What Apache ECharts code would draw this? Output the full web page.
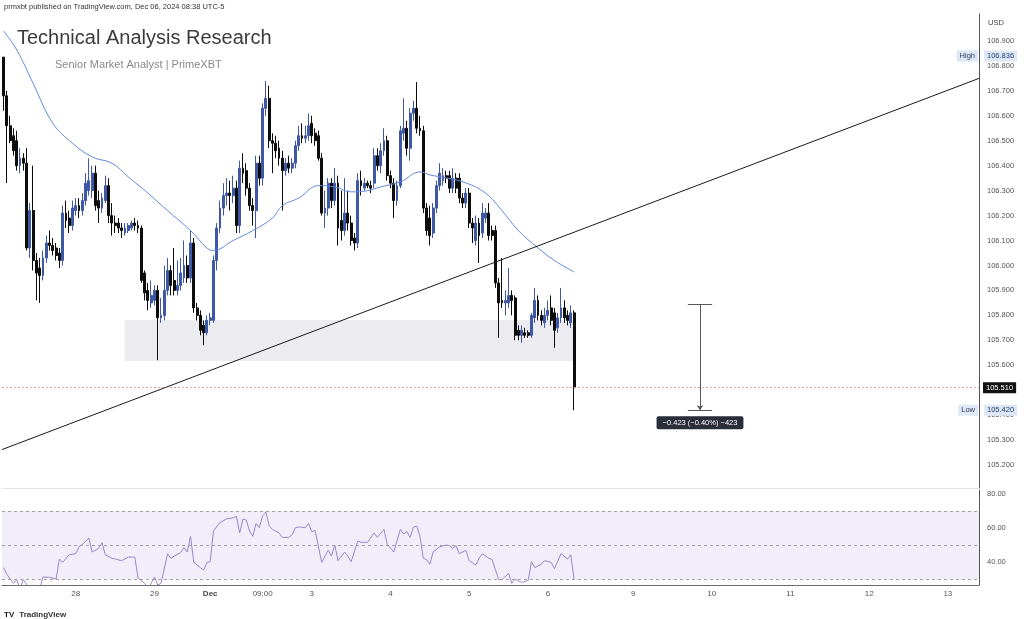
<!DOCTYPE html>
<html>
<head>
<meta charset="utf-8">
<script src="https://cdn.jsdelivr.net/npm/echarts@6/dist/echarts.min.js"></script>
<style>
html,body{margin:0;padding:0;background:#fff;}
#c{width:1024px;height:619px;}
</style>
</head>
<body>
<div id="c"></div>
<script>
// ---------- DATA ----------
const slotCount = 298;
const tickIdx  = [22, 46, 63, 79, 94, 118, 142, 166, 192, 216, 240, 264, 288];
const tickText = ['28','29','Dec','09:00','3','4','5','6','9','10','11','12','13'];

const opens = [106.835,106.68,106.56,106.52,106.50,106.40,106.43,106.41,106.07,106.22,
 106.02,105.99,105.96,106.03,106.09,106.08,106.07,106.05,106.02,106.21,
 106.19,106.16,106.22,106.24,106.22,106.26,106.30,106.30,106.37,106.26,
 106.23,106.26,106.32,106.20,106.17,106.17,106.15,106.13,106.14,106.15,
 106.17,106.16,106.15,105.97,105.90,105.85,105.86,105.90,105.79,105.80,
 105.90,105.98,105.94,105.90,105.92,105.95,106.00,105.95,106.09,105.83,
 105.80,105.76,105.73,105.78,105.78,106.02,106.15,106.23,106.28,106.29,
 106.28,106.31,106.16,106.39,106.38,106.31,106.24,106.22,106.41,106.35,
 106.63,106.67,106.50,106.49,106.47,106.43,106.38,106.41,106.39,106.41,
 106.48,106.52,106.51,106.52,106.57,106.53,106.52,106.43,106.21,106.23,
 106.33,106.26,106.33,106.18,106.14,106.21,106.17,106.11,106.09,106.34,
 106.31,106.33,106.32,106.33,106.44,106.40,106.46,106.50,106.36,106.33,
 106.26,106.32,106.53,106.55,106.47,106.61,106.63,106.55,106.54,106.23,
 106.19,106.13,106.23,106.32,106.34,106.36,106.36,106.31,106.35,106.35,
 106.27,106.25,106.29,106.17,106.10,106.17,106.13,106.19,106.21,106.14,
 106.14,105.93,105.86,105.85,105.85,105.88,105.87,105.74,105.72,105.73,
 105.73,105.72,105.79,105.86,105.80,105.77,105.80,105.83,105.81,105.75,
 105.79,105.83,105.80,105.77,105.81];
const closes = [106.68,106.56,106.50,106.46,106.40,106.43,106.41,106.07,106.22,106.02,
 105.97,105.96,106.03,106.09,106.08,106.06,106.04,106.02,106.21,106.18,
 106.16,106.23,106.24,106.22,106.26,106.33,106.34,106.37,106.24,106.23,
 106.27,106.32,106.20,106.17,106.16,106.15,106.14,106.15,106.16,106.17,
 106.16,106.15,105.94,105.89,105.86,105.88,105.90,105.79,105.80,105.90,
 105.98,105.92,105.90,105.92,105.97,106.00,105.95,106.09,105.83,105.80,
 105.74,105.73,105.78,105.79,106.02,106.15,106.23,106.28,106.29,106.28,
 106.31,106.16,106.39,106.37,106.31,106.24,106.22,106.41,106.35,106.63,
 106.67,106.50,106.49,106.46,106.43,106.38,106.41,106.39,106.41,106.48,
 106.52,106.51,106.52,106.56,106.52,106.50,106.43,106.21,106.23,106.33,
 106.26,106.33,106.15,106.14,106.21,106.17,106.10,106.09,106.34,106.32,
 106.33,106.32,106.31,106.44,106.40,106.46,106.50,106.36,106.33,106.26,
 106.32,106.54,106.55,106.47,106.61,106.63,106.55,106.54,106.23,106.14,
 106.12,106.23,106.32,106.37,106.36,106.35,106.31,106.35,106.31,106.27,
 106.25,106.29,106.17,106.15,106.17,106.12,106.21,106.21,106.12,106.12,
 105.93,105.85,105.85,105.86,105.88,105.86,105.72,105.72,105.74,105.72,
 105.72,105.80,105.86,105.80,105.78,105.80,105.82,105.78,105.74,105.79,
 105.83,105.79,105.78,105.81,105.51];
const lows = [106.62,106.33,106.49,106.44,106.38,106.37,106.38,106.06,106.03,105.98,
 105.86,105.85,105.94,106.01,106.06,106.04,106.02,105.99,106.00,106.15,
 106.13,106.14,106.20,106.19,106.20,106.24,106.28,106.27,106.22,106.17,
 106.21,106.25,106.17,106.12,106.13,106.13,106.11,106.12,106.13,106.14,
 106.14,106.13,105.93,105.86,105.82,105.83,105.84,105.62,105.77,105.78,
 105.88,105.88,105.88,105.88,105.90,105.93,105.93,105.93,105.81,105.78,
 105.72,105.68,105.72,105.76,105.77,105.98,106.13,106.20,106.24,106.22,
 106.25,106.13,106.13,106.33,106.28,106.22,106.16,106.11,106.32,106.32,
 106.60,106.47,106.37,106.43,106.40,106.22,106.36,106.37,106.37,106.39,
 106.46,106.49,106.49,106.50,106.49,106.48,106.42,106.20,106.15,106.20,
 106.23,106.24,106.08,106.10,106.12,106.14,106.08,106.06,106.07,106.28,
 106.30,106.31,106.29,106.31,106.38,106.37,106.44,106.34,106.31,106.19,
 106.24,106.31,106.50,106.44,106.42,106.58,106.53,106.52,106.21,106.12,
 106.08,106.11,106.21,106.30,106.32,106.33,106.29,106.29,106.29,106.25,
 106.23,106.23,106.15,106.09,106.08,106.01,106.11,106.17,106.10,106.10,
 105.91,105.71,105.83,105.80,105.83,105.80,105.70,105.70,105.69,105.71,
 105.71,105.71,105.77,105.78,105.76,105.75,105.78,105.76,105.67,105.73,
 105.77,105.77,105.76,105.75,105.42];
const highs = [106.836,106.70,106.60,106.55,106.54,106.47,106.45,106.47,106.25,106.40,
 106.05,106.03,106.06,106.12,106.14,106.11,106.09,106.07,106.24,106.26,
 106.22,106.26,106.27,106.27,106.29,106.37,106.43,106.40,106.40,106.30,
 106.29,106.36,106.35,106.25,106.20,106.19,106.17,106.17,106.17,106.18,
 106.19,106.18,106.16,105.98,105.93,105.94,105.92,105.92,105.87,106.00,
 106.03,106.00,106.07,106.02,106.03,106.10,106.04,106.14,106.11,105.85,
 105.82,105.78,105.80,105.81,106.04,106.17,106.26,106.33,106.35,106.34,
 106.36,106.34,106.42,106.45,106.41,106.33,106.27,106.44,106.44,106.65,
 106.74,106.72,106.53,106.52,106.50,106.46,106.43,106.44,106.43,106.50,
 106.56,106.57,106.56,106.61,106.60,106.55,106.54,106.45,106.30,106.35,
 106.35,106.39,106.36,106.30,106.35,106.30,106.20,106.13,106.37,106.38,
 106.35,106.34,106.34,106.47,106.47,106.49,106.55,106.52,106.38,106.35,
 106.34,106.56,106.67,106.58,106.63,106.66,106.735,106.60,106.56,106.25,
 106.24,106.25,106.34,106.41,106.39,106.38,106.38,106.39,106.37,106.37,
 106.29,106.31,106.31,106.19,106.20,106.19,106.25,106.23,106.25,106.16,
 106.16,105.95,106.03,105.90,105.99,105.90,105.88,105.76,105.76,105.75,
 105.74,105.81,105.91,105.88,105.82,105.83,105.86,105.88,105.83,105.81,
 105.91,105.86,105.82,105.84,105.82];

const maIdx = [0,4,9,15,21,27,33,38,44,50,57,62,64,70,76,82,85,90,96,101,106,111,115,121,127,130,135,141,147,152,157,163,168,174];
const maVal = [106.94,106.864,106.73,106.57,106.49,106.435,106.41,106.355,106.29,106.22,106.14,106.07,106.06,106.10,106.14,106.19,106.24,106.27,106.32,106.315,106.295,106.30,106.315,106.335,106.375,106.363,106.351,106.331,106.29,106.22,106.14,106.07,106.02,105.974];

const rsiIdx = [0,1,3,4,5,6,8,9,11,12,14,16,17,18,20,22,23,24,26,27,29,30,31,33,34,36,38,40,41,43,44,45,46,47,48,50,51,52,54,55,56,57,58,60,61,62,63,64,66,68,70,71,72,73,74,75,76,77,78,79,80,81,82,84,85,87,88,89,90,92,93,94,95,97,99,100,101,102,104,105,106,108,109,111,113,114,116,117,119,121,122,123,124,125,126,127,128,129,130,131,133,135,136,137,138,139,141,142,144,145,146,148,149,151,152,154,155,156,158,160,161,162,164,165,167,168,170,172,173,174];
const rsiVal = [36.7,32.7,27.5,29.6,24.5,29.6,24.3,26.5,24.3,31.2,31,30,41.8,39.8,44.3,44.9,49,50.4,54.1,45.9,48,51.4,44.3,42.2,41.8,40.8,42.9,42.9,30.6,27.5,24.7,27.5,31.2,26.5,27.5,44.9,42.2,43.5,45.5,48.4,45.9,55.1,39.8,36.7,35.3,39.8,40.2,58.2,63.3,65.3,66,66.9,57.1,65.3,64.7,58.2,55.1,62.7,60.2,67.3,69.4,61.2,59.2,57.1,54.5,54.5,56.1,60.2,60.6,60.2,62.7,57.8,58.6,39.8,46.9,43.5,50,40.8,45.9,43.5,40.2,52.4,51.6,51.6,57.1,54.5,59.2,50.4,45.9,59.2,56.5,57.8,54.5,60.6,61.2,55.1,42.2,41.4,38.8,45.9,49,50,49.6,48,49.6,44.9,46.9,40.8,38.2,42.2,44.9,42.2,41.4,29.6,29.6,33.3,27.5,30,28,29.2,40.2,36.7,38.8,40.8,39.8,36.1,44.9,41.8,44.3,29.6];

const priceTicks = [105.2,105.3,105.4,105.5,105.6,105.7,105.8,105.9,106.0,106.1,106.2,106.3,106.4,106.5,106.6,106.7,106.8,106.9];
const rsiTicks = [40, 60, 80];
const rsiLevels = [70, 50, 30];

const lastPrice = 105.510;
const highPrice = 106.836;
const lowPrice = 105.420;
const zone = {x0: 36.9, x1: 174.2, top: 105.781, bottom: 105.617};
const trend = {x0: -0.5, p0: 105.262, x1: 297.5, p1: 106.750};
const measure = {x: 212.4, xl: 208.7, xr: 216.1, top: 105.843, bottom: 105.420, text: '\u22120.423 (\u22120.40%) \u2212423'};

// ---------- BUILD ----------
const categories = [];
for (let i = 0; i < slotCount; i++) categories.push('');
tickIdx.forEach((k, j) => { categories[k] = tickText[j]; });

const candles = opens.map((o, i) => [o, closes[i], lows[i], highs[i]]);
const maData = maIdx.map((k, i) => [k, maVal[i]]);
const rsiData = rsiIdx.map((k, i) => [k, rsiVal[i]]);

const FONT = 'Liberation Sans, Arial, sans-serif';
const BULL = '#3f58a6';
const BEAR = '#0d0d0d';
const HIDDEN = {width: 0, color: 'rgba(0,0,0,0)', type: 'solid'};
const boxLbl = (txt, bg, fg) => ({
  show: true, formatter: txt, backgroundColor: bg, color: fg,
  padding: [2, 3, 1, 3], fontSize: 7.5, fontFamily: FONT
});

const chart = echarts.init(document.getElementById('c'), null, {renderer: 'canvas'});
chart.setOption({
  animation: false,
  backgroundColor: '#ffffff',
  textStyle: {fontFamily: FONT},
  title: [
    {text: 'prmxbt published on TradingView.com, Dec 06, 2024 08:38 UTC-5', left: 4, top: 3, padding: 0,
     textStyle: {fontSize: 7.5, color: '#333', fontWeight: 'normal', fontFamily: FONT}},
    {text: 'Technical Analysis Research', left: 17, top: 28, padding: 0,
     textStyle: {fontSize: 20, color: '#3c3c3c', fontWeight: 'normal', fontFamily: FONT}},
    {text: 'Senior Market Analyst | PrimeXBT', left: 55, top: 59, padding: 0,
     textStyle: {fontSize: 11, color: '#8a8a8a', fontWeight: 'normal', fontFamily: FONT}},
    {text: 'USD', left: 988, top: 19, padding: 0,
     textStyle: {fontSize: 7.5, color: '#444', fontWeight: 'normal', fontFamily: FONT}},
    {text: '{l|TV} {t|TradingView}', left: 4, top: 606, padding: 0,
     textStyle: {rich: {l: {fontSize: 8, fontWeight: 'bold', color: '#131722'}, t: {fontSize: 8, color: '#333'}}}}
  ],
  grid: [
    {left: 2, right: 45, top: 14, height: 474},
    {left: 2, right: 45, top: 490, height: 95}
  ],
  xAxis: [
    {type: 'category', gridIndex: 0, data: categories, boundaryGap: true,
     axisLine: {show: true, onZero: false, lineStyle: {color: '#e4e4e4'}}, axisTick: {show: false}, axisLabel: {show: false}, splitLine: {show: false}},
    {type: 'value', gridIndex: 0, min: -0.5, max: slotCount - 0.5, show: false,
     axisLine: {show: false, onZero: false}, splitLine: {show: false}},
    {type: 'category', gridIndex: 1, data: categories, boundaryGap: true,
     axisLine: {show: true, onZero: false, lineStyle: {color: '#6a6a6a'}}, axisTick: {show: false},
     axisLabel: {show: true, interval: (i, v) => v !== '', fontSize: 8, color: '#555', margin: 5,
       formatter: v => v === 'Dec' ? '{b|Dec}' : v, rich: {b: {fontWeight: 'bold', fontSize: 8, color: '#444'}}},
     splitLine: {show: false}}
  ],
  yAxis: [
    {type: 'value', gridIndex: 0, position: 'right', min: 105.108, max: 107.008, scale: true,
     axisLine: {show: true, onZero: false, lineStyle: {color: '#555'}}, axisTick: {show: false}, splitLine: {show: false},
     axisLabel: {show: true, customValues: priceTicks, fontSize: 7.5, color: '#555', margin: 8,
       formatter: v => v.toFixed(3)}},
    {type: 'value', gridIndex: 1, position: 'right', min: 26.5, max: 82.35,
     axisLine: {show: true, onZero: false, lineStyle: {color: '#555'}}, axisTick: {show: false}, splitLine: {show: false},
     axisLabel: {show: true, customValues: rsiTicks, fontSize: 7.5, color: '#555', margin: 8,
       formatter: v => v.toFixed(2)}}
  ],
  series: [
    {
      name: 'drawings', type: 'line', xAxisIndex: 1, yAxisIndex: 0, data: [], z: 1, silent: true,
      markArea: {
        silent: true,
        itemStyle: {color: '#ececf0'},
        data: [[{coord: [zone.x0, zone.top]}, {coord: [zone.x1, zone.bottom]}]]
      }
    },
    {
      name: 'price', type: 'candlestick', xAxisIndex: 0, yAxisIndex: 0, data: candles, z: 3,
      barWidth: '72%',
      itemStyle: {color: BULL, color0: BEAR, borderColor: BULL, borderColor0: BEAR, borderWidth: 1}
    },
    {
      name: 'MA', type: 'line', xAxisIndex: 0, yAxisIndex: 0, data: maData, smooth: 0.4,
      symbol: 'none', lineStyle: {color: '#6489dd', width: 1}, z: 4
    },
    {
      name: 'overlay', type: 'line', xAxisIndex: 1, yAxisIndex: 0, data: [], z: 5, silent: true,
      markLine: {
        silent: true, symbol: ['none', 'none'], animation: false,
        data: [
          [{coord: [trend.x0, trend.p0], lineStyle: {color: '#1a1a1a', width: 1, type: 'solid'}, label: {show: false}},
           {coord: [trend.x1, trend.p1]}],
          {yAxis: lastPrice, lineStyle: {color: '#e99a9a', width: 1, type: [2, 2]},
           label: Object.assign(boxLbl(lastPrice.toFixed(3), '#111111', '#ffffff'), {position: 'end', distance: 4})},
          {yAxis: highPrice, lineStyle: HIDDEN,
           label: Object.assign(boxLbl(highPrice.toFixed(3), '#dde7f6', '#1f3f73'), {position: 'end', distance: 5})},
          {yAxis: highPrice, lineStyle: HIDDEN,
           label: Object.assign(boxLbl('High', '#dde7f6', '#2a3b57'), {position: 'insideEnd', distance: 1})},
          {yAxis: lowPrice, lineStyle: HIDDEN,
           label: Object.assign(boxLbl(lowPrice.toFixed(3), '#dde7f6', '#1f3f73'), {position: 'end', distance: 5})},
          {yAxis: lowPrice, lineStyle: HIDDEN,
           label: Object.assign(boxLbl('Low', '#dde7f6', '#2a3b57'), {position: 'insideEnd', distance: 1})},
          [{coord: [measure.xl, measure.top], lineStyle: {color: '#555', width: 1, type: 'solid'}, label: {show: false}},
           {coord: [measure.xr, measure.top]}],
          [{coord: [measure.xl, measure.bottom], lineStyle: {color: '#555', width: 1, type: 'solid'}, label: {show: false}},
           {coord: [measure.xr, measure.bottom]}],
          [{coord: [measure.x, measure.top], lineStyle: {color: '#555', width: 1, type: 'solid'}, label: {show: false}},
           {coord: [measure.x, measure.bottom], symbol: 'arrow', symbolSize: 5}]
        ]
      },
      markPoint: {
        silent: true,
        data: [{coord: [measure.x, measure.bottom], symbol: 'rect', symbolSize: 0,
          label: {show: true, position: 'bottom', distance: 6, formatter: measure.text,
            backgroundColor: '#2a2e39', color: '#ffffff', padding: [3, 6, 2, 6], borderRadius: 2,
            fontSize: 7.5, fontFamily: FONT}}]
      }
    },
    {
      name: 'RSI', type: 'line', xAxisIndex: 2, yAxisIndex: 1, data: rsiData, symbol: 'none',
      lineStyle: {color: '#9a86cc', width: 1}, z: 4,
      markArea: {silent: true, itemStyle: {color: 'rgba(126,87,194,0.10)'},
        data: [[{yAxis: rsiLevels[2]}, {yAxis: rsiLevels[0]}]]},
      markLine: {silent: true, symbol: ['none', 'none'], label: {show: false},
        lineStyle: {color: '#a0a0a8', width: 1, type: [3, 3]},
        data: rsiLevels.map(v => ({yAxis: v}))}
    }
  ]
});
</script>
</body>
</html>
